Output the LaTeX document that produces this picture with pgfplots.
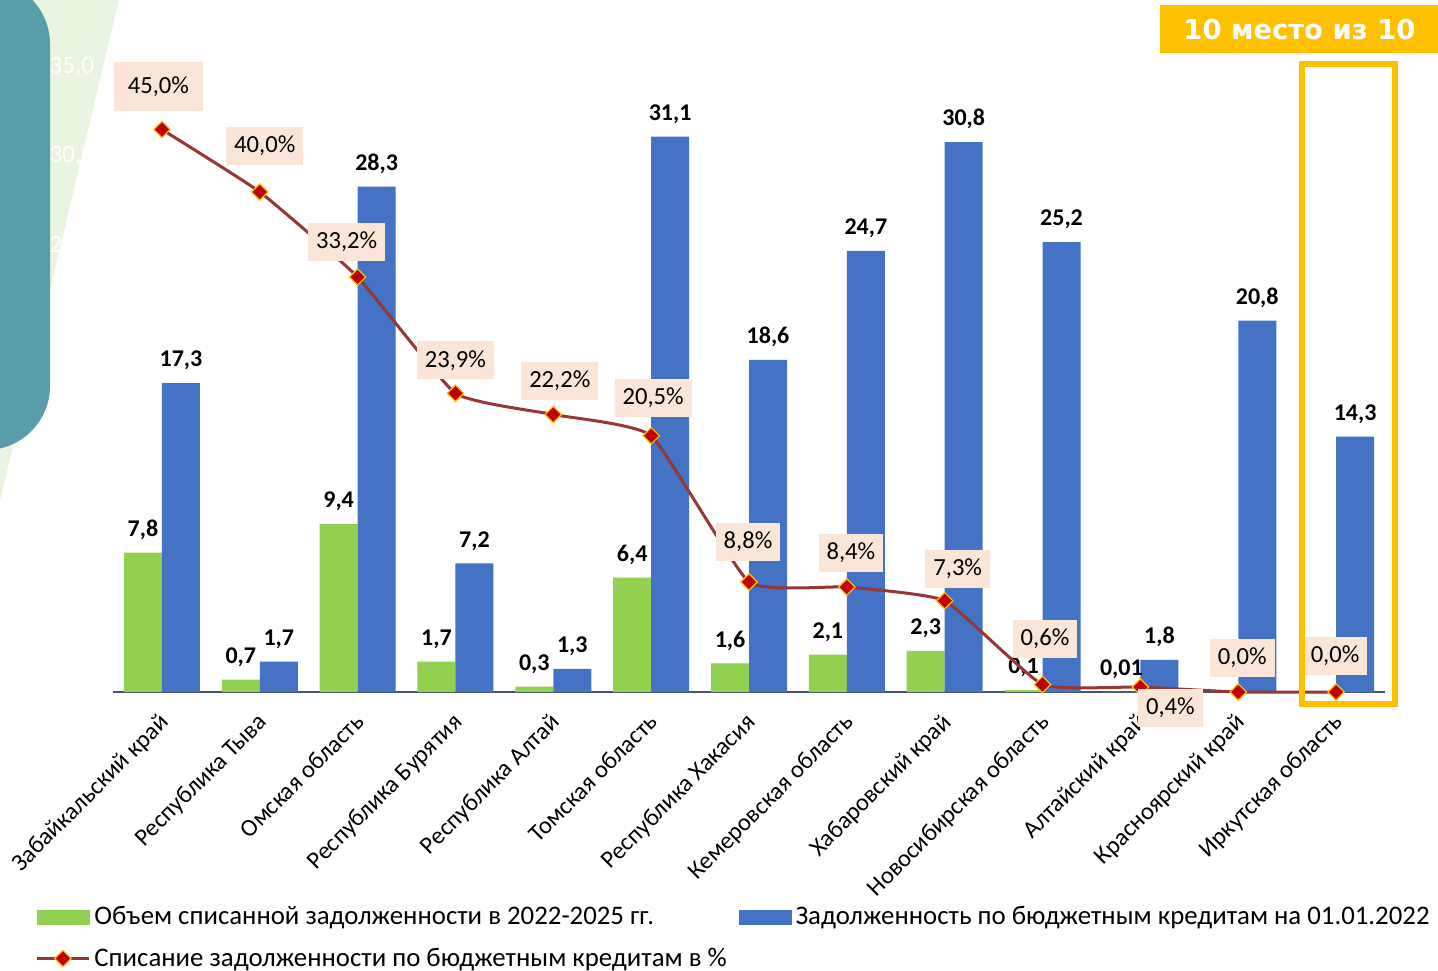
\documentclass[border=0pt]{standalone}
\usepackage{fontspec}
\setmainfont{Carlito}
\newfontfamily\badgefont{DejaVu Sans}
\usepackage{pgfplots}
\pgfplotsset{compat=1.18}

\definecolor{wgreen}{HTML}{92D050}
\definecolor{dblue}{HTML}{4472C4}
\definecolor{pline}{HTML}{953735}
\definecolor{mred}{HTML}{C00000}
\definecolor{myel}{HTML}{FFC000}
\definecolor{lblbox}{HTML}{FBE5D6}
\definecolor{slideteal}{HTML}{589DA9}
\definecolor{bandgreen}{HTML}{E9F5E1}
\definecolor{axisgray}{HTML}{44546A}

\tikzset{
  labelbox/.style={fill=lblbox, text=black, font=\fontsize{12.3}{14}\selectfont,
    inner xsep=4pt, inner ysep=0pt},
  pmark/.style={fill=mred, draw=myel, line width=0.6pt, rotate=45, solid},
}

\pgfplotsset{
  frame/.style={
    at={(56.5pt,-346pt)}, anchor=south west,
    scale only axis, width=636pt, height=312.5pt,
    xmin=-0.5, xmax=12.5, clip=false,
  },
  greenleg/.style={legend image code/.code={\fill[wgreen] (0pt,-3.5pt) rectangle (26pt,3.5pt);}},
  blueleg/.style={legend image code/.code={\fill[dblue] (0pt,-3.5pt) rectangle (26pt,3.5pt);}},
  lineleg/.style={legend image code/.code={
    \draw[pline, line width=1.5pt] (0pt,0pt) -- (26pt,0pt);
    \draw[draw=none, mark=square*, mark size=2.9pt, mark options={pmark}]
      plot coordinates {(13pt,0pt)};}},
}

\begin{document}
\begin{tikzpicture}
\useasboundingbox (0pt,0pt) rectangle (719pt,-485pt);

% slide background pieces (1 unit = 1 px of the reference)
\begin{scope}[x=0.5pt,y=-0.5pt]
  \fill[bandgreen] (-5,-5) -- (120,-5) -- (-1,505) -- (-5,505) -- cycle;
  \fill[slideteal, rounded corners=32pt] (-150,-20) rectangle (50,450);
\end{scope}

% bars: written-off amount and debt
\begin{axis}[
  frame,
  ymin=0, ymax=35,
  ybar=0pt, bar width=19pt,
  separate axis lines,
  axis x line*=bottom, axis y line*=left,
  y axis line style={draw=none},
  x axis line style={axisgray, line width=1pt, -},
  xtick={0,...,12}, xtick style={draw=none},
  xticklabels={Забайкальский край, Республика Тыва, Омская область, Республика Бурятия,
    Республика Алтай, Томская область, Республика Хакасия, Кемеровская область,
    Хабаровский край, Новосибирская область, Алтайский край, Красноярский край,
    Иркутская область},
  xticklabel style={xshift=-2pt, yshift=-4pt, rotate=45, anchor=north east, inner sep=1pt,
    font=\fontsize{12.2}{15}\selectfont},
  ytick={0,5,...,35}, ytick style={draw=none},
  yticklabel style={white, font=\fontsize{12.5}{15}\selectfont, xshift=-6pt,
    /pgf/number format/.cd, fixed, fixed zerofill, precision=1, use comma, assume math mode=true},
  nodes near coords, point meta=explicit symbolic,
  nodes near coords style={black, yshift=3pt, font=\bfseries\fontsize{12}{14}\selectfont},
]
\addplot[fill=wgreen, draw=none] coordinates {
  (0,7.8) [7,8]
  (1,0.7) [0,7]
  (2,9.4) [9,4]
  (3,1.7) [1,7]
  (4,0.3) [0,3]
  (5,6.4) [6,4]
  (6,1.6) [1,6]
  (7,2.1) [2,1]
  (8,2.3) [2,3]
  (9,0.1) [0,1]
  (10,0.01) [0,01]
};
\addplot[fill=dblue, draw=none] coordinates {
  (0,17.3) [17,3]
  (1,1.7) [1,7]
  (2,28.3) [28,3]
  (3,7.2) [7,2]
  (4,1.3) [1,3]
  (5,31.1) [31,1]
  (6,18.6) [18,6]
  (7,24.7) [24,7]
  (8,30.8) [30,8]
  (9,25.2) [25,2]
  (10,1.8) [1,8]
  (11,20.8) [20,8]
  (12,14.3) [14,3]
};
\end{axis}

% share written off, percent
\begin{axis}[
  frame,
  ymin=0, ymax=50,
  axis lines=none,
  legend columns=2,
  legend cell align=left,
  legend style={at={(-0.066,-0.330)}, anchor=north west, draw=none, fill=none,
    font=\fontsize{13.4}{15}\selectfont,
    /tikz/every even column/.append style={column sep=4pt},
    row sep=6pt},
]
\addlegendimage{greenleg}
\addlegendentry{Объем списанной задолженности в 2022-2025 гг.}
\addlegendimage{blueleg}
\addlegendentry{Задолженность по бюджетным кредитам на 01.01.2022}
\addlegendimage{lineleg}
\addlegendentry{Списание задолженности по бюджетным кредитам в \%}

\addplot[pline, line width=1.5pt, smooth, tension=0.25, mark=square*, mark size=2.9pt,
  mark options={pmark}, forget plot] coordinates {
  (0,45.0) (1,40.0) (2,33.2) (3,23.9) (4,22.2) (5,20.5) (6,8.8)
  (7,8.4) (8,7.3) (9,0.6) (10,0.4) (11,0.0) (12,0.0)
};
% labels: offset of the box centre from the point and box size, in pt
\addplot[draw=none, forget plot, nodes near coords, point meta=explicit symbolic,
  visualization depends on={value \thisrow{dx}\as\dx},
  visualization depends on={value \thisrow{dy}\as\dy},
  visualization depends on={value \thisrow{w}\as\bw},
  visualization depends on={value \thisrow{h}\as\bh},
  nodes near coords style={labelbox, anchor=center, xshift=\dx pt, yshift=\dy pt,
    minimum width=\bw pt, minimum height=\bh pt}]
  table[x=x, y=y, meta=lab] {
  x  y    lab      dx     dy     w     h
  0  45.0 45,0\%  -1.75   21.5   44.5  24.5
  1  40.0 40,0\%   2.5    23     37.5  19
  2  33.2 33,2\%  -5.5    17.5   37.5  19
  3  23.9 23,9\%   0      16.5   37.5  19
  4  22.2 22,2\%   3.25   17     37.5  19
  5  20.5 20,5\%   1      19     37.5  19
  6  8.8  8,8\%   -0.5    20     32    19
  7  8.4  8,4\%    2      17     32    19
  8  7.3  7,3\%    6.5    16     32    19
  9  0.6  0,6\%    1.25   23     32    19
  10 0.4  0,4\%   15     -10.5   32    19
  11 0.0  0,0\%    2      17     32    19
  12 0.0  0,0\%   -0.5    18     31    19
};
\end{axis}

% highlight of the last region and the ranking badge
\draw[myel, line width=3pt] (651pt,-32pt) rectangle (697.5pt,-352pt);
\node[fill=myel, text=white, font=\badgefont\bfseries\fontsize{13.7}{16}\selectfont,
  minimum width=139pt, minimum height=24pt, inner sep=0pt, anchor=north west]
  at (580pt,-2.5pt) {10 место из 10};
\end{tikzpicture}
\end{document}
